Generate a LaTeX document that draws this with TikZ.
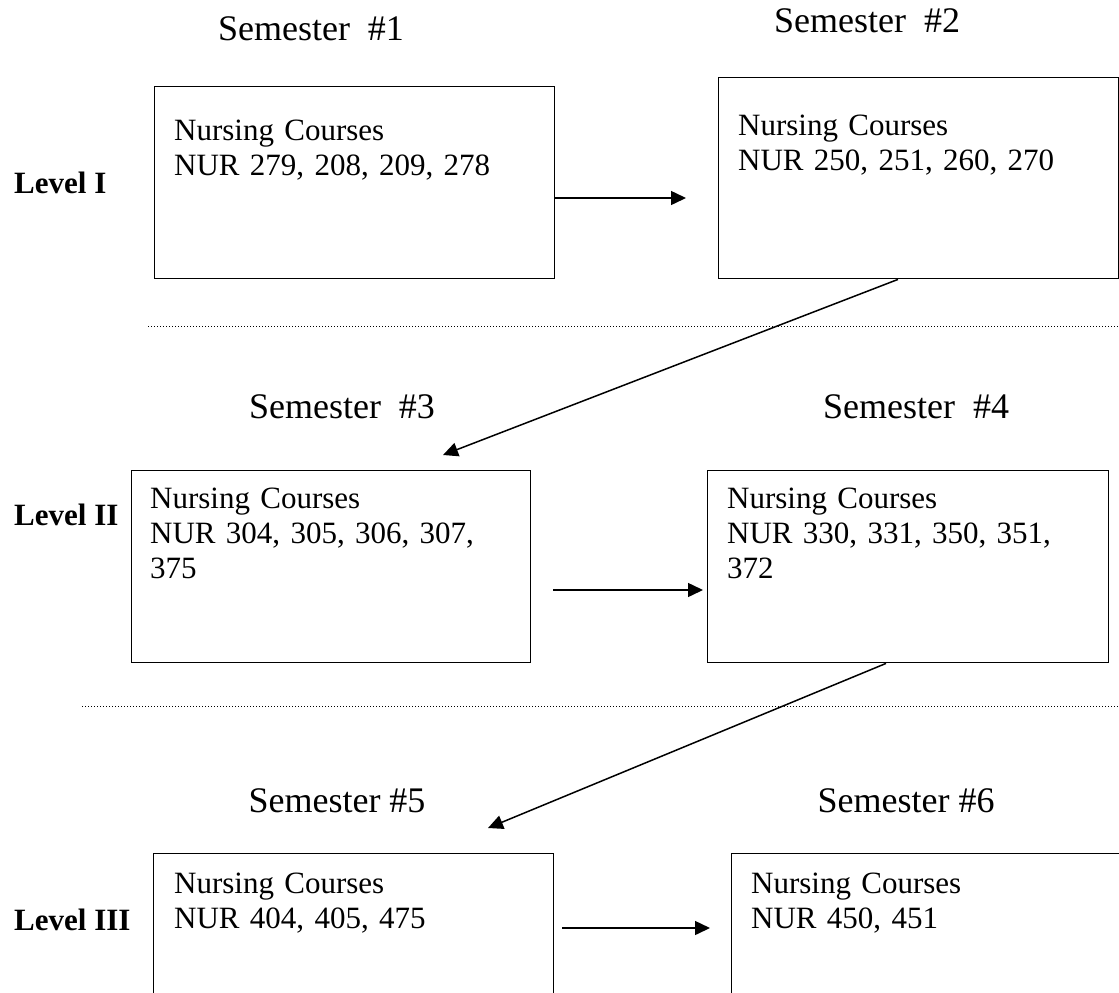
\documentclass[tikz,border=0pt]{standalone}
\usepackage{fontspec}
\setmainfont{Liberation Serif}
\usetikzlibrary{arrows.meta,calc}
\begin{document}
\begin{tikzpicture}[x=1pt,y=-1pt,
  box/.style={draw,line width=1.4pt,inner sep=0pt,anchor=north west},
  txt/.style={anchor=base west,inner sep=0pt,text width=390pt,align=left,font=\fontsize{31}{35}\selectfont},
  sem/.style={anchor=base,inner sep=0pt,font=\fontsize{36}{40}\selectfont},
  lvl/.style={anchor=base west,inner sep=0pt,font=\fontsize{31}{36}\selectfont\bfseries},
  arr/.style={line width=1.5pt,-{Triangle[length=15pt,width=14pt]}},
  sep/.style={line width=1pt,dash pattern=on 1pt off 2pt}]
\useasboundingbox (0,0) rectangle (1119,993);
\clip (0,0) rectangle (1119,993);

% semester titles
\node[sem] (s1) at (311,40) {Semester\ \ \#1};
\node[sem] (s2) at (867,32) {Semester\ \ \#2};
\node[sem] (s3) at (342,418) {Semester\ \ \#3};
\node[sem] (s4) at (916,418) {Semester\ \ \#4};
\node[sem] (s5) at (337,812) {Semester \#5};
\node[sem] (s6) at (906,812) {Semester \#6};

% level labels
\node[lvl] (l1) at (14,193) {Level I};
\node[lvl] (l2) at (14,525) {Level II};
\node[lvl] (l3) at (14,930) {Level III};

% boxes
\node[box,minimum width=400pt,minimum height=192pt] (b1) at (154,86) {};
\node[box,minimum width=400pt,minimum height=201pt] (b2) at (718,77) {};
\node[box,minimum width=399pt,minimum height=192pt] (b3) at (131,470) {};
\node[box,minimum width=401pt,minimum height=192pt] (b4) at (707,470) {};
\node[box,minimum width=400pt,minimum height=160pt] (b5) at (153,853) {};
\node[box,minimum width=420pt,minimum height=160pt] (b6) at (731,853) {};

% box texts
\node[txt] (t1) at (174,140) {Nursing Courses\\NUR 279, 208, 209, 278};
\node[txt] (t2) at (738,135) {Nursing Courses\\NUR 250, 251, 260, 270};
\node[txt] (t3) at (150,508) {Nursing Courses\\NUR 304, 305, 306, 307,\\375};
\node[txt] (t4) at (727,508) {Nursing Courses\\NUR 330, 331, 350, 351,\\372};
\node[txt] (t5) at (174,893) {Nursing Courses\\NUR 404, 405, 475};
\node[txt] (t6) at (751,893) {Nursing Courses\\NUR 450, 451};

% level separators
\coordinate (d1a) at (148,326);
\coordinate (d1b) at (1119,326);
\coordinate (d2a) at (82,706);
\coordinate (d2b) at (1119,706);
\draw[sep] (d1a) -- (d1b);
\draw[sep] (d2a) -- (d2b);

% connector end points
\coordinate (e1) at (686,198);
\coordinate (e2) at (443,455);
\coordinate (e3s) at (553,590);
\coordinate (e3) at (703,590);
\coordinate (e4) at (488,828);
\coordinate (e5s) at (562,928);
\coordinate (e5) at (710,928);

\draw[arr] (b1.east |- e1) -- (e1);
\draw[arr] ($(b2.south west)+(180,0)$) -- (e2);
\draw[arr] (e3s) -- (e3);
\draw[arr] ($(b4.south west)+(179,0)$) -- (e4);
\draw[arr] (e5s) -- (e5);
\end{tikzpicture}
\end{document}
